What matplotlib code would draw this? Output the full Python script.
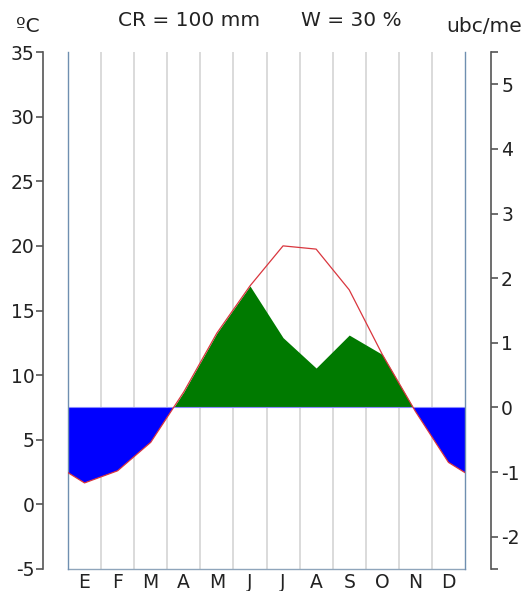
import matplotlib
matplotlib.use("Agg")
import matplotlib.pyplot as plt
import numpy as np

plt.rcParams["axes.unicode_minus"] = False

# ── Datos ──────────────────────────────────────────────────────────────────────
meses = ["E", "F", "M", "A", "M", "J", "J", "A", "S", "O", "N", "D"]
temperatura = [1.66, 2.6, 4.8, 8.7, 13.25, 16.9, 20.0, 19.75, 16.6, 11.6, 7.2, 3.25]
# intensidad bioclimática libre (ubc) en los meses limitados por sequía
ib_libre = [None, None, None, None, None, None, 1.08, 0.61, 1.12, None, None, None]
T_BASE = 7.5      # ºC que corresponde a 0 ubc
UBC_GRADOS = 5.0  # 1 ubc = 5 ºC
CR = 100
W = 30

# ── Curvas cerradas en los bordes (enero-diciembre) ───────────────────────────
x = np.arange(12) + 0.5
t = np.array(temperatura)
borde = (t[0] + t[-1]) / 2
xs = np.concatenate([[0], x, [12]])
ts = np.concatenate([[borde], t, [borde]])
verde = np.array([tt if v is None else T_BASE + UBC_GRADOS * v
                  for tt, v in zip(temperatura, ib_libre)])
vs = np.concatenate([[borde], verde, [borde]])

fig = plt.figure(figsize=(5.26, 5.91), dpi=100)
ax = fig.add_axes([68 / 526, 22 / 591, 397 / 526, 517 / 591])

for k in range(1, 12):
    ax.axvline(k, color="#d8d8d8", lw=1.3, zorder=0)
for k in (0, 12):
    ax.axvline(k, color="#6f8fb0", lw=1.0, zorder=3, clip_on=False)

ax.fill_between(xs, T_BASE, ts, where=ts <= T_BASE, interpolate=True,
                color="#0000ff", lw=0, zorder=1)
ax.fill_between(xs, T_BASE, vs, where=vs >= T_BASE, interpolate=True,
                color="#007a00", lw=0, zorder=1)
ax.axhline(T_BASE, color="#8a8aff", lw=0.8, zorder=2)
ax.plot(xs, ts, color="#d9363e", lw=0.9, zorder=4)

ax.set_xlim(0, 12)
ax.set_ylim(-5, 35)
ax.set_xticks(x)
ax.set_xticklabels(meses)
ax.tick_params(axis="x", length=0, pad=3, labelsize=13.5, colors="#222222")
ax.set_yticks(np.arange(-5, 36, 5))
ax.set_yticklabels([str(v) for v in range(-5, 36, 5)])
ax.tick_params(axis="y", direction="out", length=5, width=1.2, pad=1,
               labelsize=13.5, colors="#222222")
ax.tick_params(axis="y", color="#555555")

ax.spines["top"].set_visible(False)
ax.spines["right"].set_visible(False)
ax.spines["left"].set_position(("outward", 18))
ax.spines["left"].set_color("#555555")
ax.spines["left"].set_linewidth(1.2)
ax.spines["bottom"].set_color("#8fa5bb")
ax.spines["bottom"].set_linewidth(1.0)

ax2 = ax.twinx()
ax2.set_ylim((-5 - T_BASE) / UBC_GRADOS, (35 - T_BASE) / UBC_GRADOS)
ax2.set_yticks(np.arange(-2, 6))
ax2.set_yticks([-2.5, 5.5], minor=True)
ax2.tick_params(axis="y", which="both", direction="out", length=5, width=1.2,
                pad=2, labelsize=13.5, colors="#222222")
ax2.tick_params(axis="y", which="both", color="#555555")
for s in ("top", "left", "bottom"):
    ax2.spines[s].set_visible(False)
ax2.spines["right"].set_position(("outward", 19))
ax2.spines["right"].set_color("#555555")
ax2.spines["right"].set_linewidth(1.2)

fig.text(28 / 526, 1 - 27 / 591, "ºC", ha="center", va="center",
         fontsize=14.5, color="#222222")
fig.text(189 / 526, 1 - 21 / 591, f"CR = {CR} mm", ha="center", va="center",
         fontsize=14.5, color="#222222")
fig.text(351 / 526, 1 - 21 / 591, f"W = {W} %", ha="center", va="center",
         fontsize=14.5, color="#222222")
fig.text(446 / 526, 1 - 27 / 591, "ubc/me", ha="left", va="center",
         fontsize=14.5, color="#222222")

fig.savefig("out.png", dpi=100)
